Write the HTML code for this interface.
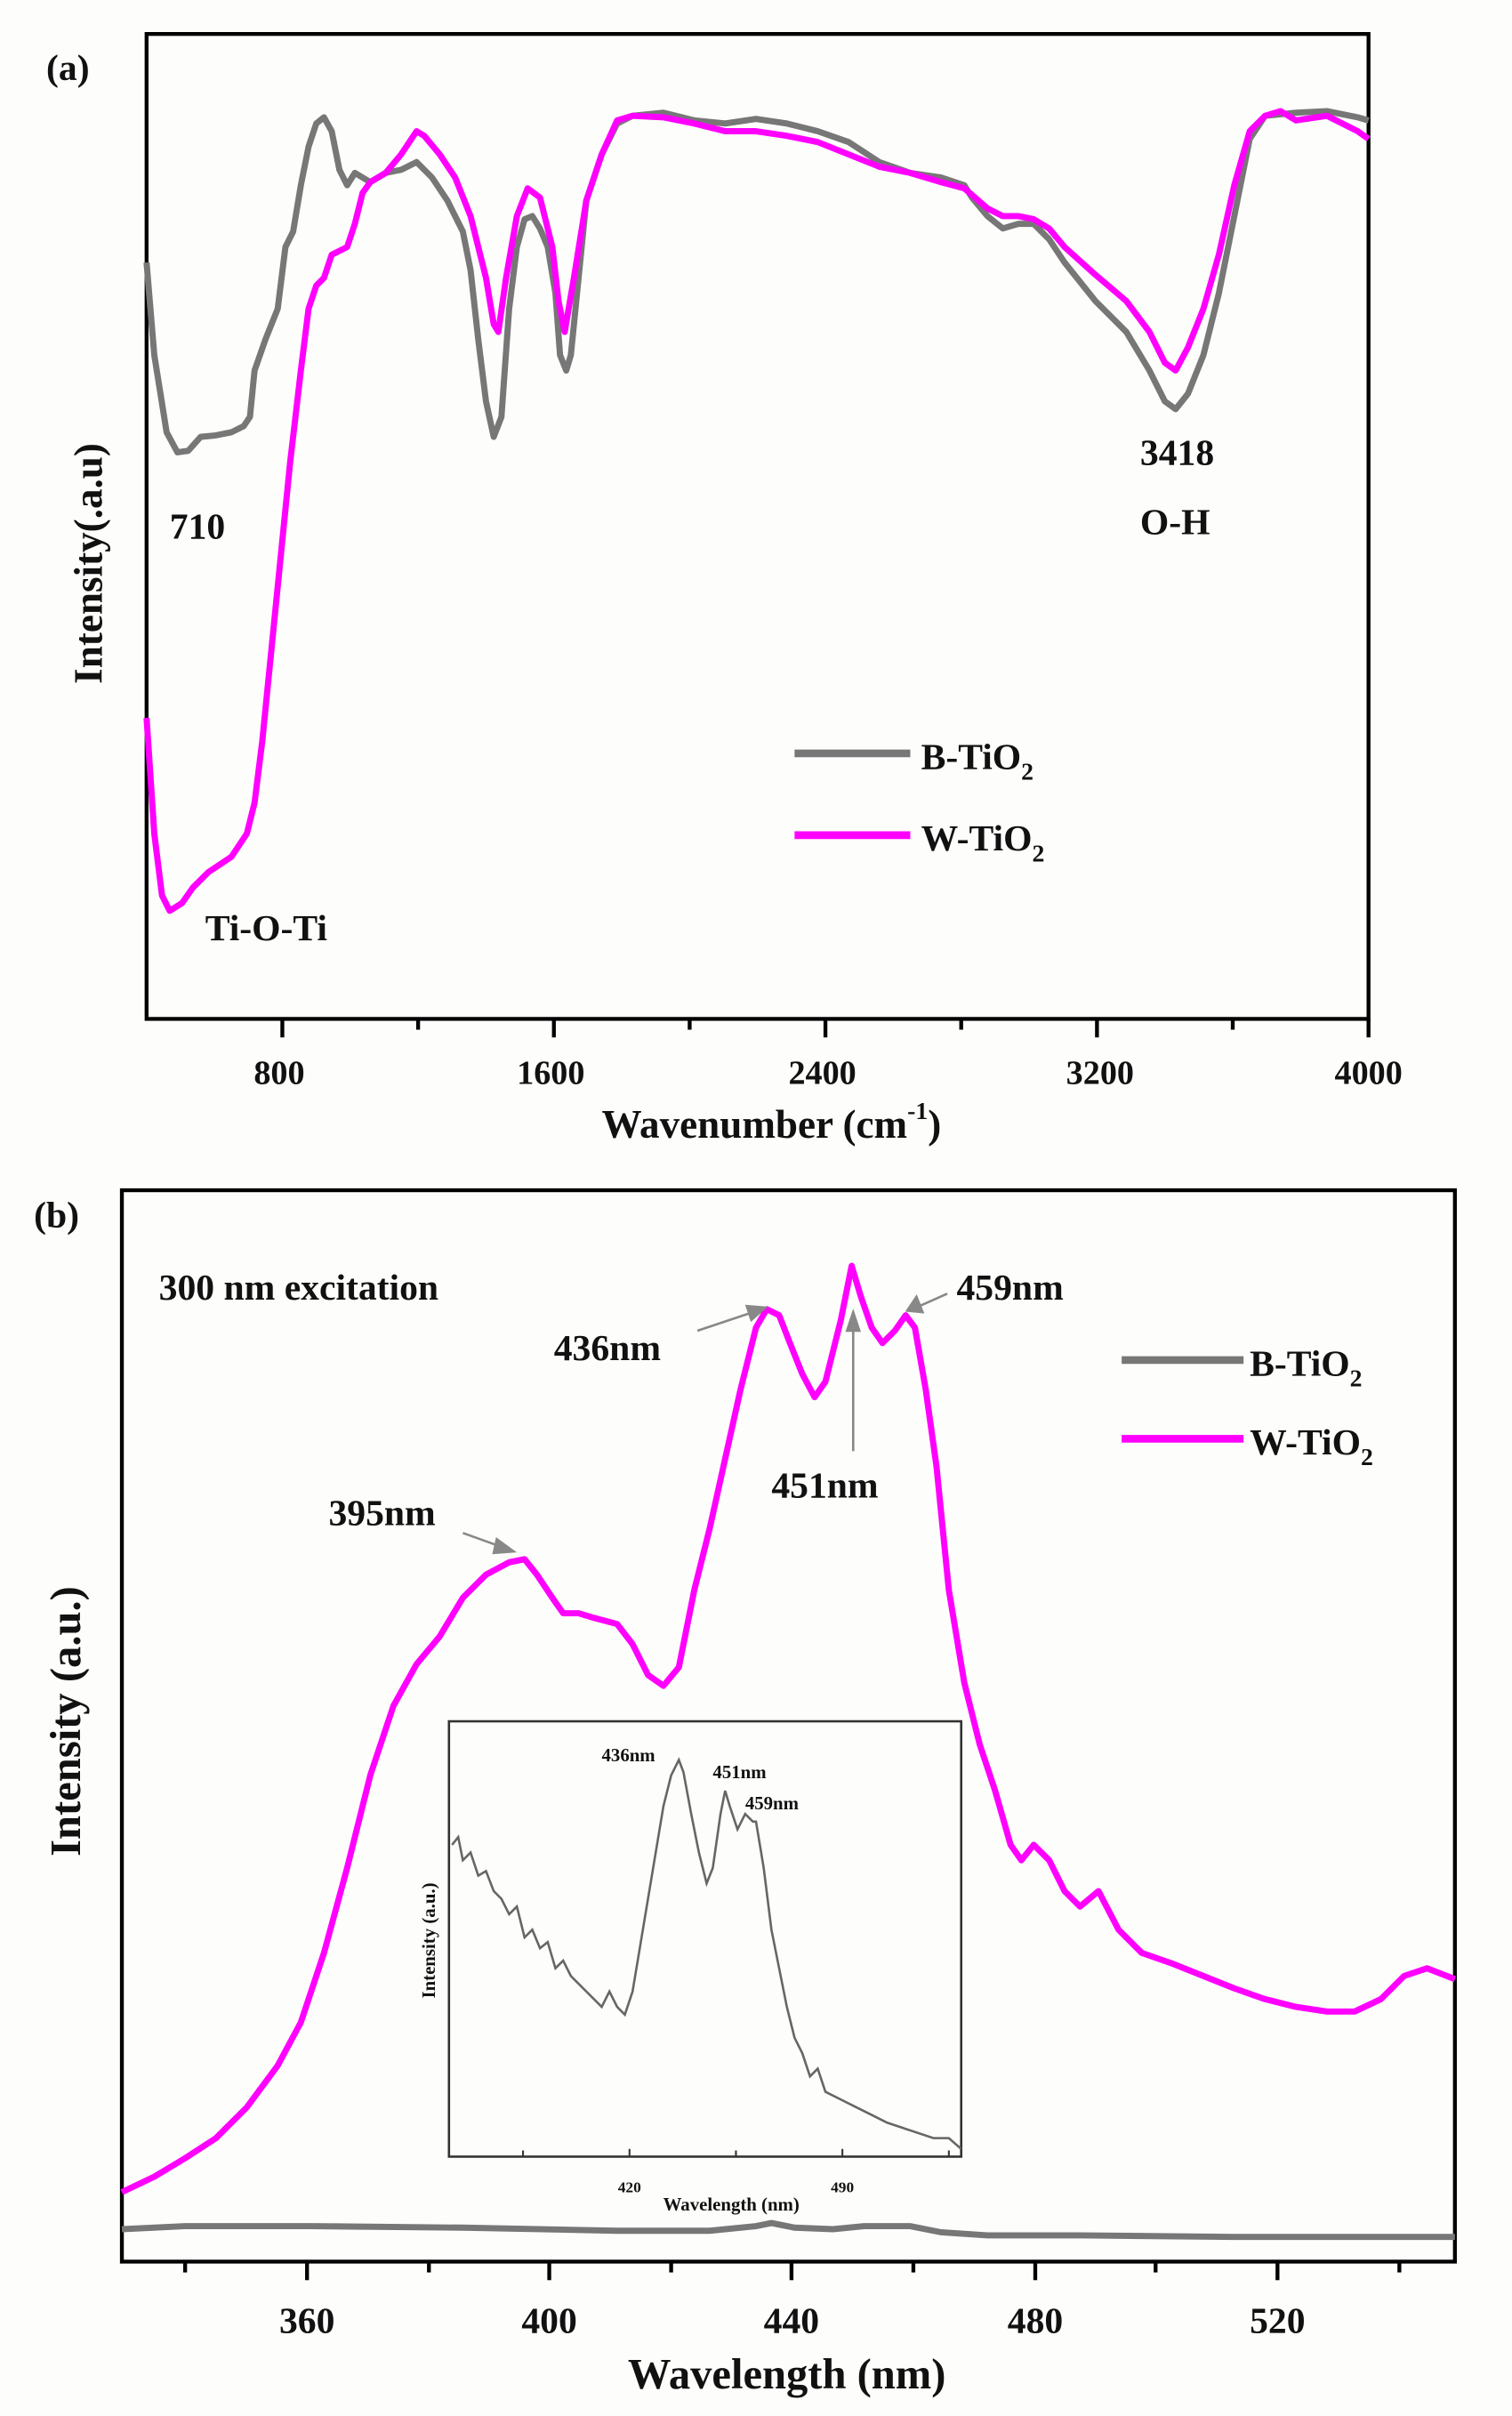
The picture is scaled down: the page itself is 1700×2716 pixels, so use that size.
<!DOCTYPE html>
<html><head><meta charset="utf-8"><style>
html,body{margin:0;padding:0;background:#fff;}
svg{display:block;}
text{font-family:"Liberation Serif",serif;font-weight:bold;fill:#111;}
</style></head><body>
<svg width="1700" height="2716" viewBox="0 0 980 1565" preserveAspectRatio="none" xmlns="http://www.w3.org/2000/svg">
<rect x="0" y="0" width="980" height="1565" fill="#fdfdfb"/>
<!-- Panel (a) -->
<text x="30" y="52" font-size="24">(a)</text>
<rect x="95" y="22" width="792" height="638" fill="none" stroke="#000" stroke-width="2.5"/>
<g stroke="#000" stroke-width="2.5">
<line x1="183" y1="660" x2="183" y2="672"/><line x1="359" y1="660" x2="359" y2="672"/><line x1="535" y1="660" x2="535" y2="672"/><line x1="711" y1="660" x2="711" y2="672"/><line x1="887" y1="660" x2="887" y2="672"/>
<line x1="271" y1="660" x2="271" y2="667"/><line x1="447" y1="660" x2="447" y2="667"/><line x1="623" y1="660" x2="623" y2="667"/><line x1="799" y1="660" x2="799" y2="667"/>
</g>
<g font-size="22" text-anchor="middle">
<text x="181" y="702">800</text><text x="357" y="702">1600</text><text x="533" y="702">2400</text><text x="713" y="702">3200</text><text x="887" y="702">4000</text>
</g>
<text x="500" y="737" font-size="26" text-anchor="middle">Wavenumber (cm<tspan font-size="16" dy="-12">-1</tspan><tspan dy="12">)</tspan></text>
<text transform="translate(66,365) rotate(-90)" font-size="26" text-anchor="middle">Intensity(.a.u)</text>
<polyline fill="none" stroke="#777" stroke-width="4" stroke-linejoin="round" points="95,170 100,230 108,280 115,293 122,292 130,283 140,282 150,280 158,276 162,270 165,240 172,220 180,200 185,160 190,150 195,120 200,95 205,80 210,76 215,85 220,110 225,120 230,112 235,115 240,118 250,112 260,110 270,105 280,115 290,130 300,150 305,175 310,220 315,260 320,283 325,270 330,200 335,160 340,142 345,140 350,148 355,160 360,190 363,230 367,240 370,230 375,180 380,130 390,100 400,80 410,75 430,73 450,78 470,80 490,77 510,80 530,85 550,92 570,105 590,112 610,115 625,120 630,128 640,140 650,148 660,145 670,145 680,155 690,170 710,195 730,215 745,240 755,260 762,265 770,255 780,230 790,190 800,140 810,90 820,75 840,73 860,72 880,76 887,78"/>
<polyline fill="none" stroke="#ff00ff" stroke-width="4" stroke-linejoin="round" points="95,465 100,540 105,580 110,590 118,585 125,575 135,565 150,555 160,540 165,520 170,480 180,380 188,300 195,240 200,200 205,185 210,180 215,165 225,160 230,145 235,125 240,118 250,112 260,100 270,85 275,88 285,100 295,115 305,140 315,180 320,210 323,215 328,180 335,140 342,122 350,128 358,160 362,195 366,215 372,180 380,130 390,100 400,78 410,75 430,76 450,80 470,85 490,85 510,88 530,92 550,100 570,108 590,112 610,118 625,122 632,128 640,135 650,140 660,140 670,142 680,148 690,160 710,178 730,195 745,215 755,235 762,240 770,225 780,200 790,165 800,120 810,85 820,75 830,72 840,78 860,75 880,85 887,90"/>
<g font-size="24">
<text x="110" y="349">710</text>
<text x="133" y="609">Ti-O-Ti</text>
<text x="739" y="301">3418</text>
<text x="739" y="346">O-H</text>
</g>
<line x1="515" y1="488" x2="590" y2="488" stroke="#777" stroke-width="5"/>
<text x="597" y="498" font-size="24">B-TiO<tspan font-size="16" dy="7">2</tspan></text>
<line x1="515" y1="541" x2="590" y2="541" stroke="#ff00ff" stroke-width="5"/>
<text x="597" y="551" font-size="24">W-TiO<tspan font-size="16" dy="7">2</tspan></text>

<!-- Panel (b) -->
<text x="22" y="795" font-size="24">(b)</text>
<rect x="79" y="771" width="864" height="694" fill="none" stroke="#000" stroke-width="2.5"/>
<g stroke="#000" stroke-width="2.5">
<line x1="199" y1="1465" x2="199" y2="1477"/><line x1="356" y1="1465" x2="356" y2="1477"/><line x1="513" y1="1465" x2="513" y2="1477"/><line x1="671" y1="1465" x2="671" y2="1477"/><line x1="828" y1="1465" x2="828" y2="1477"/>
<line x1="120" y1="1465" x2="120" y2="1472"/><line x1="278" y1="1465" x2="278" y2="1472"/><line x1="435" y1="1465" x2="435" y2="1472"/><line x1="592" y1="1465" x2="592" y2="1472"/><line x1="749" y1="1465" x2="749" y2="1472"/><line x1="907" y1="1465" x2="907" y2="1472"/>
</g>
<g font-size="24" text-anchor="middle">
<text x="199" y="1511">360</text><text x="356" y="1511">400</text><text x="513" y="1511">440</text><text x="671" y="1511">480</text><text x="828" y="1511">520</text>
</g>
<text x="510" y="1547" font-size="28" text-anchor="middle">Wavelength (nm)</text>
<text transform="translate(52,1115) rotate(-90)" font-size="28" text-anchor="middle">Intensity (a.u.)</text>
<polyline fill="none" stroke="#777" stroke-width="4" points="79,1444 120,1442 200,1442 300,1443 400,1445 460,1445 490,1442 500,1440 515,1443 540,1444 560,1442 590,1442 610,1446 640,1448 700,1448 800,1449 943,1449"/>
<polyline fill="none" stroke="#ff00ff" stroke-width="4" stroke-linejoin="round" points="79,1420 100,1410 120,1398 140,1385 160,1365 180,1338 195,1310 210,1265 225,1210 240,1150 255,1105 270,1078 285,1060 300,1035 315,1020 330,1012 340,1010 348,1020 358,1035 365,1045 375,1045 385,1048 400,1052 410,1065 420,1085 430,1092 440,1080 450,1030 460,990 470,945 480,900 490,860 497,848 505,852 512,870 520,890 528,905 535,895 545,855 552,820 558,840 565,860 572,870 580,862 587,852 593,860 600,900 607,950 615,1030 625,1090 635,1130 645,1160 655,1195 662,1205 670,1195 680,1205 690,1225 700,1235 712,1225 725,1250 740,1265 760,1272 780,1280 800,1288 820,1295 840,1300 860,1303 878,1303 895,1295 910,1280 925,1275 943,1282"/>
<g font-size="24">
<text x="103" y="842">300 nm excitation</text>
<text x="359" y="881">436nm</text>
<text x="620" y="842">459nm</text>
<text x="500" y="970">451nm</text>
<text x="213" y="988">395nm</text>
</g>
<g stroke="#888" stroke-width="1.5" fill="#888">
<line x1="452" y1="862" x2="488" y2="850"/><polygon points="496,847 484,846 487,855"/>
<line x1="614" y1="838" x2="596" y2="846"/><polygon points="588,849 594,840 598,850"/>
<line x1="553" y1="940" x2="553" y2="858"/><polygon points="553,850 549,862 557,862"/>
<line x1="300" y1="993" x2="325" y2="1002"/><polygon points="333,1005 322,997 320,1006"/>
</g>
<line x1="727" y1="881" x2="806" y2="881" stroke="#777" stroke-width="5"/>
<text x="810" y="891" font-size="24">B-TiO<tspan font-size="16" dy="7">2</tspan></text>
<line x1="727" y1="932" x2="806" y2="932" stroke="#ff00ff" stroke-width="5"/>
<text x="810" y="942" font-size="24">W-TiO<tspan font-size="16" dy="7">2</tspan></text>

<!-- Inset -->
<rect x="291" y="1115" width="332" height="282" fill="none" stroke="#333" stroke-width="1.5"/>
<g stroke="#333" stroke-width="1.2">
<line x1="339" y1="1397" x2="339" y2="1393"/><line x1="408" y1="1397" x2="408" y2="1392"/><line x1="477" y1="1397" x2="477" y2="1393"/><line x1="546" y1="1397" x2="546" y2="1392"/><line x1="615" y1="1397" x2="615" y2="1393"/>
</g>
<g font-size="10" text-anchor="middle">
<text x="408" y="1420">420</text><text x="546" y="1420">490</text>
</g>
<text x="474" y="1432" font-size="12" text-anchor="middle">Wavelength (nm)</text>
<text transform="translate(282,1257) rotate(-90)" font-size="12" text-anchor="middle">Intensity (a.u.)</text>
<polyline fill="none" stroke="#666" stroke-width="1.5" points="293,1195 297,1190 300,1205 305,1200 310,1215 315,1212 320,1225 325,1230 330,1240 335,1235 340,1255 345,1250 350,1262 355,1258 360,1275 365,1270 370,1280 375,1285 380,1290 385,1295 390,1300 395,1290 400,1300 405,1305 410,1290 415,1260 420,1230 425,1200 430,1170 435,1150 440,1140 443,1148 448,1175 453,1200 458,1220 462,1210 467,1175 470,1160 473,1170 478,1185 483,1175 488,1180 490,1180 495,1210 500,1250 505,1275 510,1300 515,1320 520,1330 525,1345 530,1340 535,1355 545,1360 555,1365 565,1370 575,1375 590,1380 605,1385 615,1385 623,1392"/>
<g font-size="12">
<text x="390" y="1141">436nm</text>
<text x="462" y="1152">451nm</text>
<text x="483" y="1172">459nm</text>
</g>
</svg>
</body></html>
